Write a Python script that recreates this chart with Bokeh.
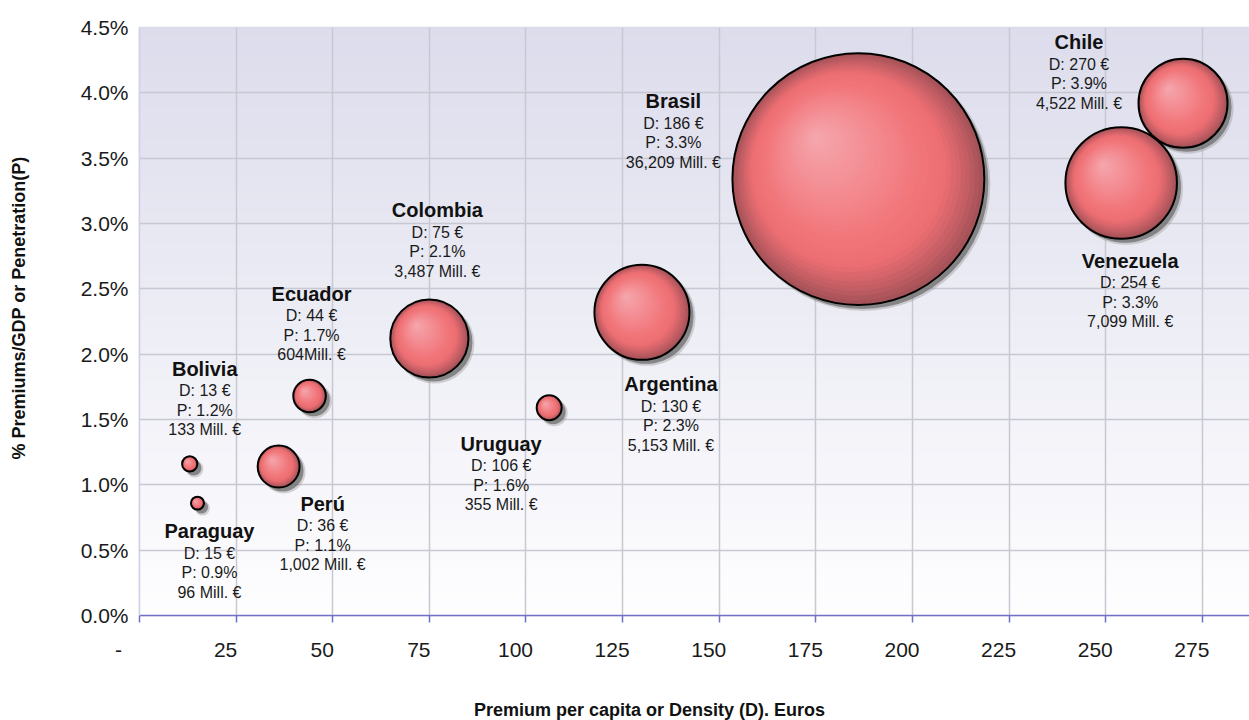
import numpy as np
from bokeh.plotting import figure
from bokeh.models import ColumnDataSource, FixedTicker, PrintfTickFormatter, Range1d
from bokeh.core.properties import value
from bokeh.embed import file_html
from bokeh.resources import INLINE

# ---------------- data ----------------
countries = ["Bolivia", "Paraguay", "Perú", "Ecuador", "Colombia",
             "Uruguay", "Argentina", "Brasil", "Chile", "Venezuela"]
density = [13, 15, 36, 44, 75, 106, 130, 186, 270, 254]          # € per capita
penetration = [1.16, 0.86, 1.14, 1.68, 2.12, 1.59, 2.32, 3.34, 3.92, 3.31]  # % of GDP
premiums = [133, 96, 1002, 604, 3487, 355, 5153, 36209, 4522, 7099]  # Mill. €
premium_text = ["133 Mill. €", "96 Mill. €", "1,002 Mill. €", "604Mill. €",
                "3,487 Mill. €", "355 Mill. €", "5,153 Mill. €",
                "36,209 Mill. €", "4,522 Mill. €", "7,099 Mill. €"]

x_ticks = [0, 25, 50, 75, 100, 125, 150, 175, 200, 225, 250, 275]
x_tick_labels = ["-", "25", "50", "75", "100", "125", "150", "175", "200", "225", "250", "275"]
y_ticks = [0.0, 0.5, 1.0, 1.5, 2.0, 2.5, 3.0, 3.5, 4.0, 4.5]

x_title = "Premium per capita or Density (D). Euros"
y_title = "% Premiums/GDP or Penetration(P)"

# ---------------- layout (pixels) ----------------
# name-label offsets from bubble centres (screen px, y down)
label_dx = [15, 12, 44, 2, 8, -48, 29, -185, -104, 9]
label_dy = [-95, 28, 37, -102, -128, 36, 72, -78, -61, 78]

FW, FH = 1110, 588
X_END, Y_END = 287.2, 4.5
XS, YS = FW / X_END, FH / Y_END
BUBBLE_K = 0.662   # px per sqrt(Mill. €)

FONT = value("Liberation Sans")
EN = "\u2002"
EM = "\u2003"

p = figure(width=1249, height=720, frame_width=FW, frame_height=FH,
           x_range=Range1d(0, X_END), y_range=Range1d(0, Y_END),
           output_backend="svg", toolbar_location=None,
           min_border_left=139, min_border_right=0, min_border_top=27,
           min_border_bottom=105)
p.background_fill_color = "white"
p.border_fill_color = "white"
p.outline_line_color = "#D6D6EA"
p.outline_line_width = 1.5

# background gradient bands
nb = 90
edges = np.linspace(0, Y_END, nb + 1)
top_c = np.array([220, 220, 236])
bot_c = np.array([254, 254, 255])
cols = []
for i in range(nb):
    f = (edges[i] + edges[i + 1]) / 2 / Y_END
    c = bot_c + (top_c - bot_c) * f
    cols.append("#%02x%02x%02x" % tuple(int(round(v)) for v in c))
bg = p.quad(left=0, right=X_END, bottom=edges[:-1], top=edges[1:],
            fill_color=cols, line_color=cols, line_width=1)
bg.level = "image"

# grid
p.xgrid.ticker = FixedTicker(ticks=x_ticks)
p.ygrid.ticker = FixedTicker(ticks=y_ticks)
for g in (p.xgrid, p.ygrid):
    g.grid_line_color = "#C8C8D2"
    g.grid_line_width = 1.5

# y axis
p.yaxis.ticker = FixedTicker(ticks=y_ticks)
p.yaxis.formatter = PrintfTickFormatter(format="%.1f%%")
p.yaxis.major_label_text_font = "Liberation Sans"
p.yaxis.major_label_text_font_size = "21px"
p.yaxis.major_label_text_color = "#1a1a1a"
p.yaxis.major_label_standoff = 11
p.yaxis.major_tick_out = 0
p.yaxis.major_tick_in = 0
p.yaxis.minor_tick_out = 0
p.yaxis.minor_tick_in = 0
p.yaxis.axis_line_color = "#D0D0E8"
p.yaxis.axis_line_width = 1.5
p.yaxis.axis_label = EM + EN + y_title
p.yaxis.axis_label_text_font = "Liberation Sans"
p.yaxis.axis_label_text_font_style = "bold"
p.yaxis.axis_label_text_font_size = "18px"
p.yaxis.axis_label_text_color = "#111111"
p.yaxis.axis_label_standoff = 49

# x axis
p.xaxis.ticker = FixedTicker(ticks=x_ticks)
overrides = {}
for t, lab in zip(x_ticks, x_tick_labels):
    overrides[t] = lab + (EN * 4 if lab == "-" else EN * 2)
p.xaxis.major_label_overrides = overrides
p.xaxis.major_label_text_font = "Liberation Sans"
p.xaxis.major_label_text_font_size = "21px"
p.xaxis.major_label_text_color = "#1a1a1a"
p.xaxis.major_label_standoff = 15
p.xaxis.major_tick_out = 7
p.xaxis.major_tick_in = 0
p.xaxis.minor_tick_out = 0
p.xaxis.minor_tick_in = 0
p.xaxis.major_tick_line_color = "#7070C4"
p.xaxis.major_tick_line_width = 1.5
p.xaxis.axis_line_color = "#7070C4"
p.xaxis.axis_line_width = 1.5
p.xaxis.axis_label = x_title + EM * 5
p.xaxis.axis_label_text_font = "Liberation Sans"
p.xaxis.axis_label_text_font_style = "bold"
p.xaxis.axis_label_text_font_size = "18px"
p.xaxis.axis_label_text_color = "#111111"
p.xaxis.axis_label_standoff = 36

# ---------------- bubbles ----------------
x = np.array(density, dtype=float)
y = np.array(penetration, dtype=float)
R = BUBBLE_K * np.sqrt(np.array(premiums, dtype=float))   # radius in px

# shadow
p.scatter(x + 5 / XS, y - 5 / YS, size=2 * R + 2, fill_color="#8a8a8a", fill_alpha=0.35, line_color=None)
p.scatter(x + 4 / XS, y - 4 / YS, size=2 * R, fill_color="#6e6e6e", fill_alpha=0.75, line_color=None)

stops_t = [1.0, 0.9, 0.78, 0.62, 0.35, 0.0]
stops_c = np.array([[165, 82, 88], [200, 96, 102], [236, 110, 114],
                    [241, 118, 122], [243, 140, 146], [245, 168, 174]], dtype=float)


def shade(t):
    c = [np.interp(t, stops_t[::-1], stops_c[::-1, k]) for k in range(3)]
    return "#%02x%02x%02x" % tuple(int(round(v)) for v in c)


N = 36
H = 0.34
for i in range(N):
    t = 1 - i / N
    dx = -H * (1 - t) * R / XS
    dy = H * (1 - t) * R / YS
    p.scatter(x + dx, y + dy, size=2 * R * t, fill_color=shade(t), line_color=None)

p.scatter(x, y, size=2 * R, fill_color=None, line_color="black", line_width=2)

# ---------------- labels ----------------
src = ColumnDataSource(dict(
    x=x, y=y, name=countries,
    d=["D: %d €" % v for v in density],
    pp=["P: %.1f%%" % v for v in penetration],
    m=premium_text,
    dx=label_dx,
    dy0=label_dy,
    dy1=[v + 22 for v in label_dy],
    dy2=[v + 41.5 for v in label_dy],
    dy3=[v + 61 for v in label_dy],
))
p.text(x="x", y="y", text="name", source=src, x_offset="dx", y_offset="dy0",
       text_align="center", text_baseline="middle", text_font=FONT,
       text_font_style="bold", text_font_size="20px", text_color="#111111")
for col, off in (("d", "dy1"), ("pp", "dy2"), ("m", "dy3")):
    p.text(x="x", y="y", text=col, source=src, x_offset="dx", y_offset=off,
           text_align="center", text_baseline="middle", text_font=FONT,
           text_font_size="16px", text_color="#1a1a1a")

open("out.html", "w").write(file_html(p, INLINE))
